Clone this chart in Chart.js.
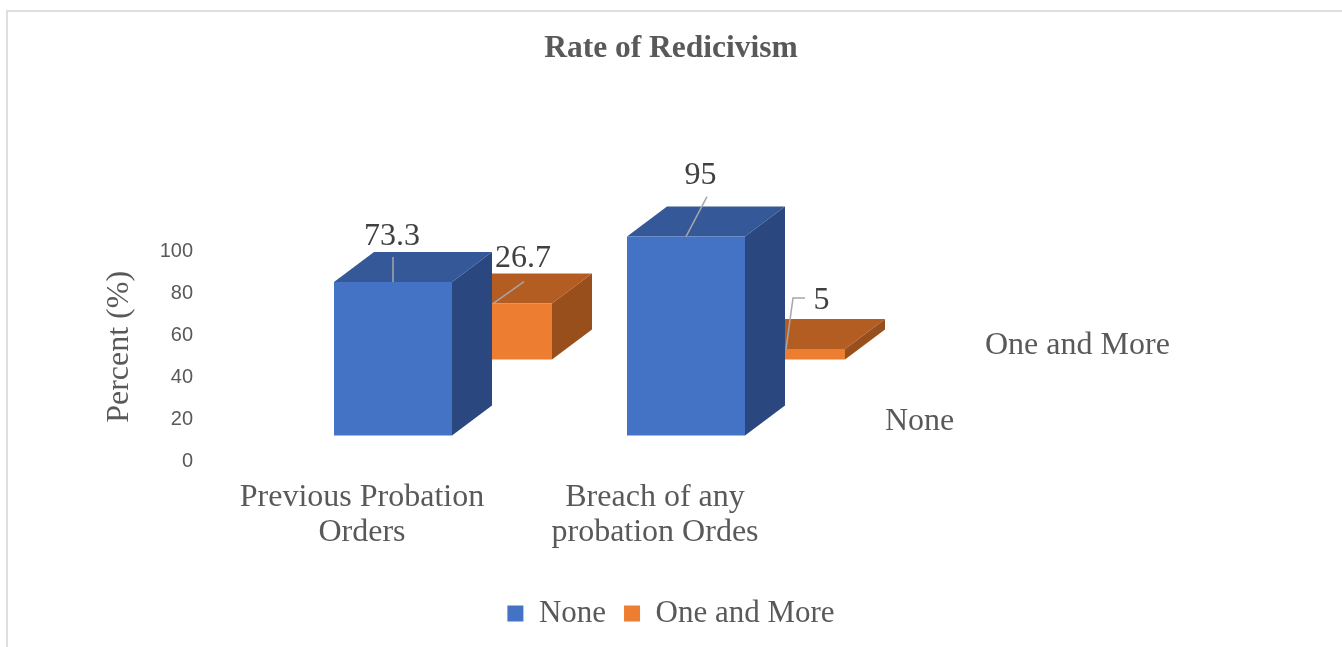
<!DOCTYPE html>
<html>
<head>
<meta charset="utf-8">
<script src="https://cdn.jsdelivr.net/npm/chart.js@4.4.1/dist/chart.umd.min.js"></script>
<style>
  html, body { margin: 0; padding: 0; background: #ffffff; overflow: hidden; }
  #wrap { position: relative; width: 1342px; height: 647px; }
  #frame { position: absolute; left: 6px; top: 10px; width: 2000px; height: 2000px;
           border-left: 2px solid #dedede; border-top: 2px solid #dedede; pointer-events: none; }
  canvas { position: absolute; left: 0; top: 0; }
</style>
</head>
<body>
<div id="wrap">
  <canvas id="c" width="1342" height="647"></canvas>
  <div id="frame"></div>
</div>
<script>
// ---------------- data ----------------
const categories = [['Previous Probation', 'Orders'], ['Breach of any', 'probation Ordes']];
const seriesNames = ['None', 'One and More'];
const noneValues = [73.3, 95];
const oneAndMoreValues = [26.7, 5];
const yTickValues = [0, 20, 40, 60, 80, 100];
const chartTitle = 'Rate of Redicivism';
const yAxisTitle = 'Percent (%)';

// ---------------- style ----------------
const SERIF = "'Liberation Serif', 'Times New Roman', serif";
const SANS = "'Liberation Sans', Arial, sans-serif";
const TEXT_GREY = '#595959';
const LABEL_DARK = '#404040';
const FRONT_COL = ['#4472C4', '#ED7D31'];
const TOP_COL = ['#345898', '#B35D22'];
const SIDE_COL = ['#2A487F', '#994F1C'];
const Y_MAX = 109;                   // axis headroom
const FRONT_SHIFT = { x: 31, y: -25.5 };  // front row offset from axis floor
const ROW_STEP = { x: 100, y: -76 };      // extra offset per depth row
const DEPTH = { x: 40, y: -30 };          // bar depth (top/side faces)
const ROW_OF_DATASET = [0, 1];
// label text offsets (from front-top-centre of bar) and leader lines
const LABEL_OFF = [
  [{ x: -1, y: -45, line: [[0, 0], [0, -25]] }, { x: 14.5, y: -61, line: [[0, 0], [21, -40]] }],
  [{ x: 30, y: -45, line: [[0, 0], [31, -22]] }, { x: 35.5, y: -48, line: [[0, 0], [7, -51], [19, -51]] }]
];

function rowShift(r) {
  return { x: FRONT_SHIFT.x + r * ROW_STEP.x, y: FRONT_SHIFT.y + r * ROW_STEP.y };
}

const bar3d = {
  id: 'bar3d',
  beforeDatasetDraw(chart, args) {
    const i = args.index;
    const s = rowShift(ROW_OF_DATASET[i]);
    const ctx = chart.ctx;
    ctx.save();
    ctx.translate(s.x, s.y);
    args.meta.data.forEach(el => {
      const p = el.getProps(['x', 'y', 'base', 'width'], true);
      const l = p.x - p.width / 2, r = p.x + p.width / 2;
      ctx.fillStyle = TOP_COL[i];
      ctx.beginPath();
      ctx.moveTo(l, p.y); ctx.lineTo(l + DEPTH.x, p.y + DEPTH.y);
      ctx.lineTo(r + DEPTH.x, p.y + DEPTH.y); ctx.lineTo(r, p.y);
      ctx.closePath(); ctx.fill();
      ctx.fillStyle = SIDE_COL[i];
      ctx.beginPath();
      ctx.moveTo(r, p.y); ctx.lineTo(r + DEPTH.x, p.y + DEPTH.y);
      ctx.lineTo(r + DEPTH.x, p.base + DEPTH.y); ctx.lineTo(r, p.base);
      ctx.closePath(); ctx.fill();
    });
  },
  afterDatasetDraw(chart) {
    chart.ctx.restore();
  },
  afterDatasetsDraw(chart) {
    const ctx = chart.ctx;
    ctx.save();
    chart.data.datasets.forEach((ds, i) => {
      const meta = chart.getDatasetMeta(i);
      const s = rowShift(ROW_OF_DATASET[i]);
      meta.data.forEach((el, j) => {
        const p = el.getProps(['x', 'y'], true);
        const ax = p.x + s.x, ay = p.y + s.y;
        const o = LABEL_OFF[i][j];
        ctx.strokeStyle = '#a6a6a6';
        ctx.lineWidth = 1.5;
        ctx.beginPath();
        o.line.forEach((pt, k) => { k ? ctx.lineTo(ax + pt[0], ay + pt[1]) : ctx.moveTo(ax + pt[0], ay + pt[1]); });
        ctx.stroke();
        ctx.fillStyle = LABEL_DARK;
        ctx.font = '32px ' + SERIF;
        ctx.textAlign = 'center';
        ctx.textBaseline = 'middle';
        ctx.fillText(String(ds.data[j]), ax + o.x, ay + o.y);
      });
    });
    // depth (series) axis labels
    const xs = chart.scales.x, ys = chart.scales.y;
    const lastX = xs.getPixelForValue(categories.length - 1);
    const base = ys.getPixelForValue(0);
    ctx.fillStyle = TEXT_GREY;
    ctx.font = '32px ' + SERIF;
    ctx.textAlign = 'left';
    ctx.textBaseline = 'middle';
    seriesNames.forEach((name, i) => {
      const s = rowShift(ROW_OF_DATASET[i]);
      ctx.fillText(name, lastX + s.x + 199, base + s.y - 14);
    });
    ctx.restore();
  }
};

new Chart(document.getElementById('c'), {
  type: 'bar',
  data: {
    labels: categories,
    datasets: [
      { label: seriesNames[0], data: noneValues, backgroundColor: FRONT_COL[0], clip: false },
      { label: seriesNames[1], data: oneAndMoreValues, backgroundColor: FRONT_COL[1], clip: false }
    ]
  },
  options: {
    responsive: false,
    animation: false,
    devicePixelRatio: 1,
    layout: { padding: { left: 0, right: 0, top: 0, bottom: 8 } },
    datasets: { bar: { grouped: false, categoryPercentage: 1, barPercentage: 118 / 293, borderWidth: 0 } },
    scales: {
      x: {
        offset: true,
        grid: { display: false, drawTicks: false, tickLength: 0 },
        border: { display: false },
        ticks: { color: TEXT_GREY, font: { family: SERIF, size: 32, lineHeight: 1.1 },
                 padding: 19, maxRotation: 0, autoSkip: false },
        afterFit(s) { s.height = 119; }
      },
      y: {
        min: 0, max: Y_MAX,
        grid: { display: false, drawTicks: false, tickLength: 0 },
        border: { display: false },
        ticks: { color: TEXT_GREY, font: { family: SANS, size: 20 }, padding: 22.5,
                 autoSkip: false, includeBounds: false },
        afterBuildTicks(s) { s.ticks = yTickValues.map(v => ({ value: v })); },
        title: { display: true, text: yAxisTitle, color: TEXT_GREY,
                 font: { family: SERIF, size: 32 }, padding: { top: 100.8, bottom: 0 } },
        afterFit(s) { s.width = 215.5; }
      },
      yR: {
        position: 'right',
        grid: { display: false, drawTicks: false },
        border: { display: false },
        ticks: { display: false },
        afterFit(s) { s.width = 540.5; }
      }
    },
    plugins: {
      title: { display: true, text: chartTitle, color: TEXT_GREY,
               font: { family: SERIF, size: 31.5, weight: 'bold' }, padding: { top: 30, bottom: 165 } },
      legend: { position: 'bottom',
                labels: { color: TEXT_GREY, font: { family: SERIF, size: 31 }, boxWidth: 16, boxHeight: 16, padding: 18 } },
      tooltip: { enabled: false }
    }
  },
  plugins: [bar3d]
});
</script>
</body>
</html>
